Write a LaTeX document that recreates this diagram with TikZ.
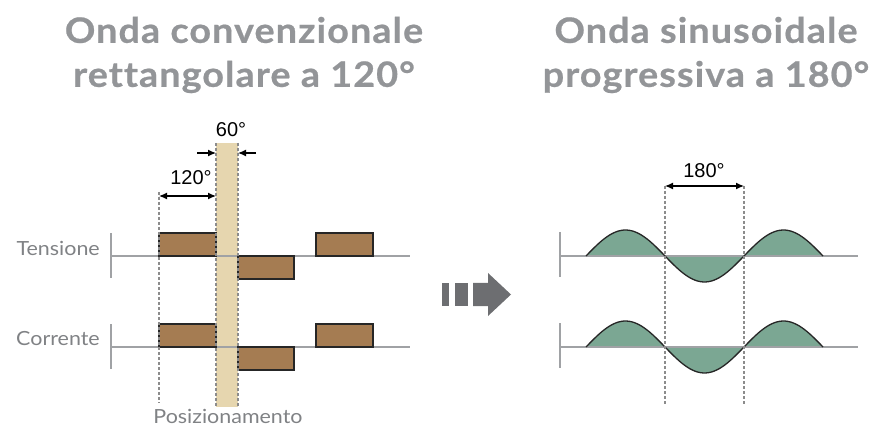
\documentclass[tikz,border=0pt]{standalone}
\usepackage{fontspec}
\setmainfont{Lato}
\newfontfamily\titlefont{Lato}[FakeStretch=1.08, LetterSpace=3, FakeBold=0.6, Ligatures=NoCommon]
\newfontfamily\labelfont{Lato}[FakeStretch=1.1]
\newfontfamily\numfont{Liberation Sans}
\usetikzlibrary{arrows.meta}

\definecolor{titlegray}{HTML}{939598}
\definecolor{labelgray}{HTML}{808285}
\definecolor{axisgray}{HTML}{A0A2A5}
\definecolor{dashgray}{HTML}{8C8C8C}
\definecolor{brick}{HTML}{A57C52}
\definecolor{bandcol}{HTML}{E6D6AF}
\definecolor{wavecol}{HTML}{7BA793}
\definecolor{arrowgray}{HTML}{6D6E71}

\tikzset{
  title/.style={font=\titlefont\bfseries\fontsize{35}{44}\selectfont, text=titlegray, align=center},
  rowlabel/.style={font=\labelfont\fontsize{19.5}{22}\selectfont, text=labelgray, anchor=east, inner sep=0pt},
  deg/.style={font=\numfont\fontsize{20}{22}\selectfont, inner sep=0pt},
  axis/.style={axisgray, line width=1.2pt},
  guide/.style={dashgray, line width=1.1pt, dash pattern=on 3pt off 2pt},
  pulse/.style={fill=brick, draw=black!85, line width=1.3pt},
  dimarrow/.style={{Latex[length=8pt,width=7pt]}-{Latex[length=8pt,width=7pt]}, line width=1.3pt},
  onearrow/.style={-{Latex[length=8pt,width=7pt]}, line width=1.3pt},
}

\begin{document}
\begin{tikzpicture}[x=1pt, y=-1pt]
  \useasboundingbox (0,0) rectangle (877,427);

  % titles
  \node[title] (titleL) at (244,55) {Onda convenzionale\\rettangolare a 120°};
  \node[title] (titleR) at (706,55) {Onda sinusoidale\\progressiva a 180°};

  % left: rectangular wave
  \fill[bandcol] (216,143) rectangle (238,407);
  \foreach \y/\lab in {256/Tensione, 347/Corrente} {
      \draw[axis] (111,\y-23) -- (111,\y+22);
      \draw[axis] (111,\y) -- (410,\y);
      \filldraw[pulse] (159,\y-23) rectangle (216,\y);
      \filldraw[pulse] (238,\y) rectangle (294,\y+23);
      \filldraw[pulse] (316,\y-23) rectangle (373,\y);
      \node[rowlabel] (row\lab) at (100,\y-8) {\lab};
    }
  \coordinate (a1top) at (159,192);
  \coordinate (a1bot) at (159,403);
  \coordinate (b1top) at (216,143);
  \coordinate (b1bot) at (216,407);
  \coordinate (b2top) at (238,143);
  \coordinate (b2bot) at (238,407);
  \foreach \p in {a1, b1, b2}
    \draw[guide] (\p top) -- (\p bot);

  \coordinate (d120l) at (159,196);
  \coordinate (d120r) at (216,196);
  \draw[dimarrow] (d120l) -- (d120r);
  \node[deg] (lab120) at (191,178) {120°};

  \coordinate (d60l) at (197,153);
  \coordinate (d60r) at (256,153);
  \draw[onearrow] (d60l) -- (216,153);
  \draw[onearrow] (d60r) -- (238,153);
  \node[deg] (lab60) at (231,130) {60°};

  \node[rowlabel, anchor=center] (pos) at (228,416) {Posizionamento};

  % middle arrow
  \fill[arrowgray] (442,283) rectangle (449,306);
  \fill[arrowgray] (455,283) rectangle (468,306);
  \fill[arrowgray] (473,283) -- (488,283) -- (488,273) -- (511,294.5)
    -- (488,316) -- (488,306) -- (473,306) -- cycle;

  % right: sine wave
  \foreach \y in {256, 347} {
      \draw[axis] (560,\y-24) -- (560,\y+21);
      \draw[axis] (560,\y) -- (858,\y);
      \fill[wavecol] plot[domain=586:823, samples=90] (\x,{\y-26*sin((\x-586)/79*180)}) -- cycle;
      \draw[axis] (586,\y) -- (823,\y);
      \draw[line width=1.3pt, black!85] plot[domain=586:823, samples=90] (\x,{\y-26*sin((\x-586)/79*180)});
    }
  \coordinate (c1top) at (665,186);
  \coordinate (c1bot) at (665,405);
  \coordinate (c2top) at (744,186);
  \coordinate (c2bot) at (744,405);
  \foreach \p in {c1, c2}
    \draw[guide] (\p top) -- (\p bot);
  \draw[dimarrow] (c1top) -- (c2top);
  \node[deg] (lab180) at (704,171) {180°};
\end{tikzpicture}
\end{document}
